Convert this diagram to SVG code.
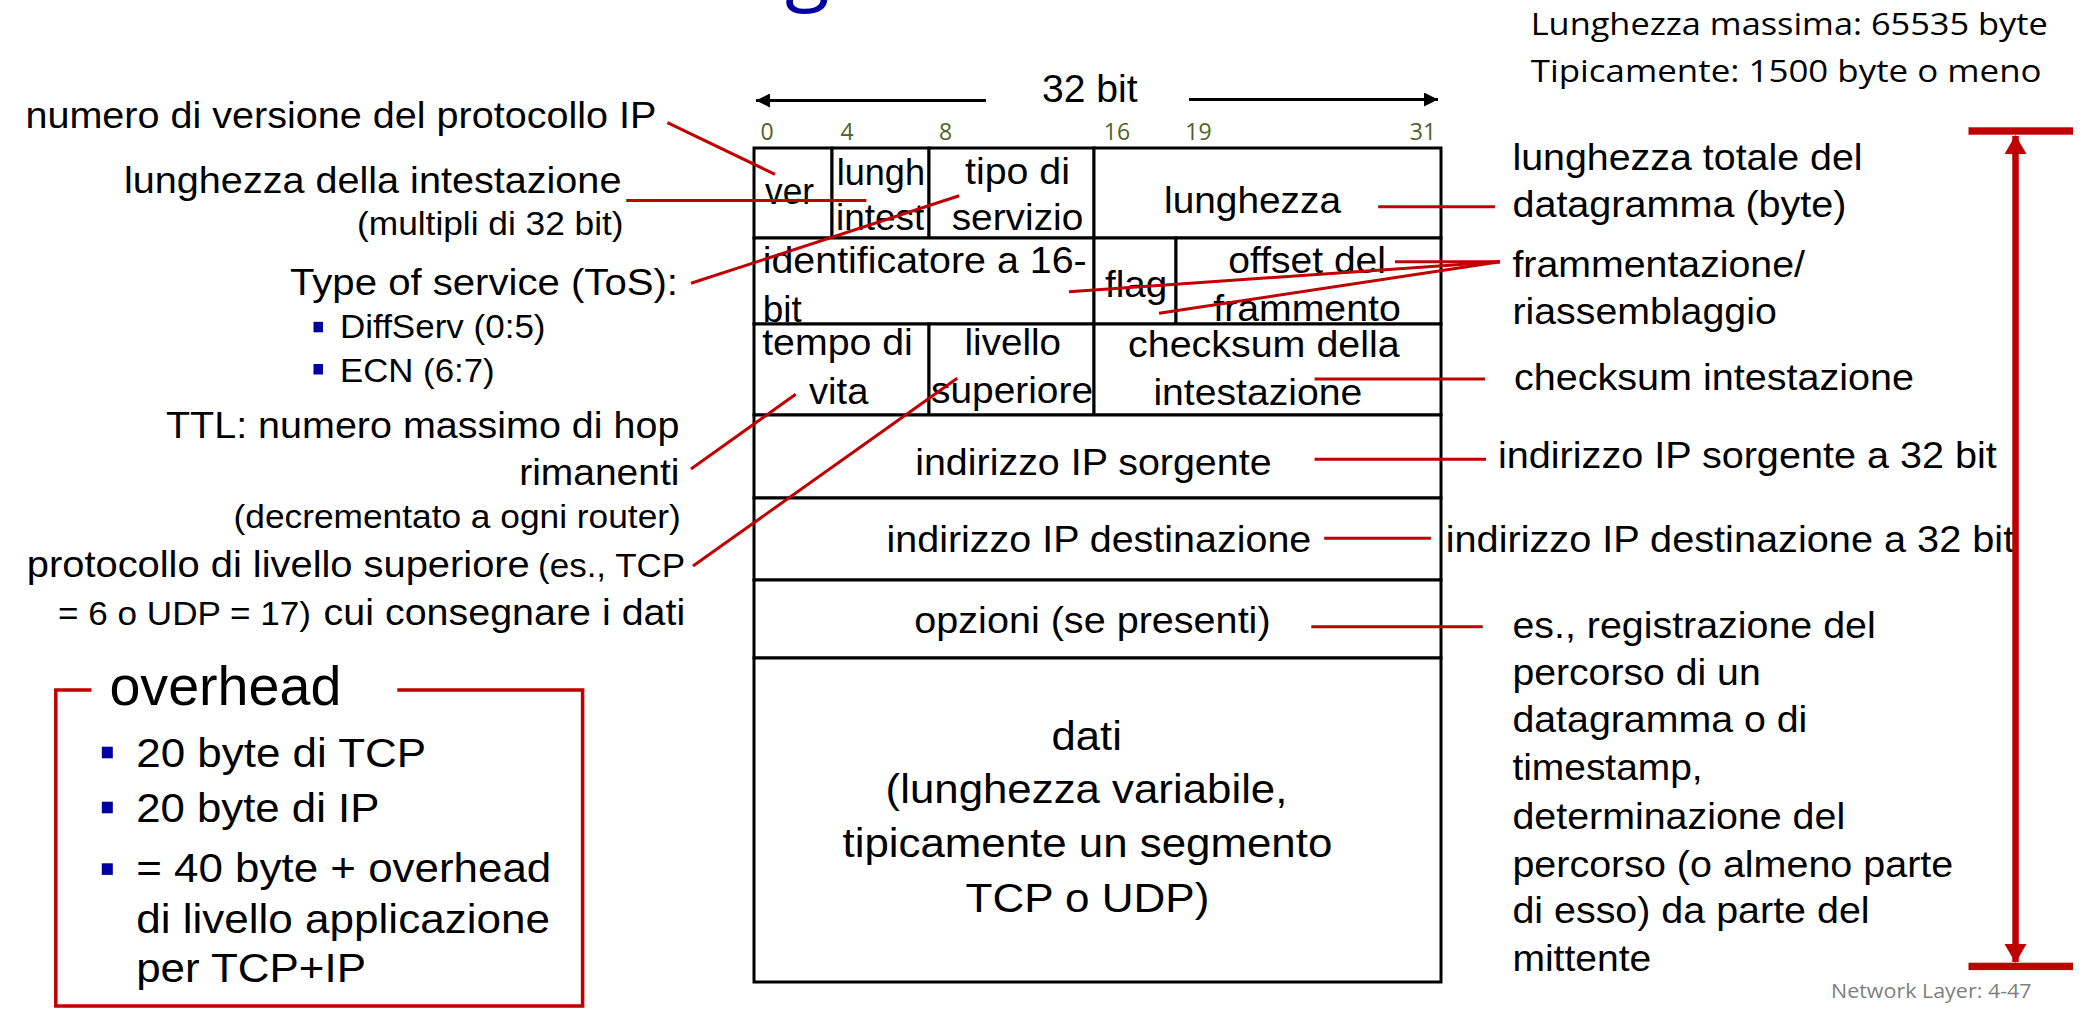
<svg xmlns="http://www.w3.org/2000/svg" width="2083" height="1023" viewBox="0 0 2083 1023">
  <defs>
    <style>
      text { font-family: "Liberation Sans", Arial, sans-serif; fill: #000; }
      .big { font-size: 37.5px; }
      .sm { font-size: 33px; }
      .tb { font-size: 37.5px; }
      .dat { font-size: 41px; }
      .ov { font-size: 41px; }
      .ovt { font-size: 56px; }
      .cal { font-family: "Open Sans", "Liberation Sans", sans-serif; font-size: 30.5px; }
      .bitn { font-family: "Open Sans", "Liberation Sans", sans-serif; font-size: 23px; fill: #4F6228; text-anchor: middle; }
      .foot { font-family: "Open Sans", "Liberation Sans", sans-serif; font-size: 20px; fill: #7F7F7F; }
      .title { font-family: "Open Sans", "Liberation Sans", sans-serif; font-size: 82px; fill: #0000A0; }
      .cell { fill: #fff; stroke: #000; stroke-width: 3; }
      .lead { stroke: #C00000; stroke-width: 3; fill: none; }
      .blt { fill: #0000A0; }
      .span { stroke: #C00000; stroke-width: 6.5; fill: none; }
      .bar { fill: #C00000; }
      .dim { stroke: #000; stroke-width: 3; fill: none; }
    </style>
    <marker id="arrBlack" markerUnits="userSpaceOnUse" markerWidth="16" markerHeight="14" refX="14" refY="7" orient="auto">
      <path d="M0,0 L14,7 L0,14 Z" fill="#000"/>
    </marker>
    <marker id="arrRed" markerUnits="userSpaceOnUse" markerWidth="20" markerHeight="24" refX="18" refY="11" orient="auto">
      <path d="M0,0 L19,11 L0,22 Z" fill="#C00000"/>
    </marker>
  </defs>

  <rect width="2083" height="1023" fill="#fff"/>

  <!-- descender of the slide title, cut by the top edge -->
  <text class="title" x="785" y="-6">g</text>

  <!-- header width indicator -->
  <g id="width-indicator">
    <text class="big" style="font-size:38.5px" x="1042" y="102.3" textLength="95.6" lengthAdjust="spacingAndGlyphs">32 bit</text>
    <line class="dim" x1="986" y1="100.5" x2="756" y2="100.5" marker-end="url(#arrBlack)"/>
    <line class="dim" x1="1189" y1="99.5" x2="1438" y2="99.5" marker-end="url(#arrBlack)"/>
    <text class="bitn" x="767" y="140">0</text>
    <text class="bitn" x="847" y="140">4</text>
    <text class="bitn" x="945.5" y="140">8</text>
    <text class="bitn" x="1117" y="140">16</text>
    <text class="bitn" x="1198.5" y="140">19</text>
    <text class="bitn" x="1423" y="140">31</text>
  </g>

  <!-- datagram header fields -->
  <g id="field-ver">
    <rect class="cell" x="754" y="148" width="78" height="90"/>
    <text class="tb" x="765" y="204" textLength="49" lengthAdjust="spacingAndGlyphs">ver</text>
  </g>
  <g id="field-lungh">
    <rect class="cell" x="832" y="148" width="97" height="90"/>
    <text class="tb" x="836.7" y="185" textLength="88.3" lengthAdjust="spacingAndGlyphs">lungh</text>
    <text class="tb" x="836" y="229.5" textLength="88.3" lengthAdjust="spacingAndGlyphs">intest</text>
  </g>
  <g id="field-tos">
    <rect class="cell" x="929" y="148" width="165" height="90"/>
    <text class="tb" x="965" y="184.3" textLength="105" lengthAdjust="spacingAndGlyphs">tipo di</text>
    <text class="tb" x="951.7" y="230" textLength="131.6" lengthAdjust="spacingAndGlyphs">servizio</text>
  </g>
  <g id="field-length">
    <rect class="cell" x="1094" y="148" width="347" height="90"/>
    <text class="tb" x="1164" y="213.3" textLength="177" lengthAdjust="spacingAndGlyphs">lunghezza</text>
  </g>
  <g id="field-id">
    <rect class="cell" x="754" y="238" width="340" height="86"/>
    <text class="tb" x="762.7" y="273.3" textLength="324" lengthAdjust="spacingAndGlyphs">identificatore a 16-</text>
    <text class="tb" x="762.7" y="321.7" textLength="39" lengthAdjust="spacingAndGlyphs">bit</text>
  </g>
  <g id="field-flag">
    <rect class="cell" x="1094" y="238" width="82" height="86"/>
    <text class="tb" x="1105" y="296.7" textLength="62.3" lengthAdjust="spacingAndGlyphs">flag</text>
  </g>
  <g id="field-offset">
    <rect class="cell" x="1176" y="238" width="265" height="86"/>
    <text class="tb" x="1228.3" y="273.3" textLength="157.7" lengthAdjust="spacingAndGlyphs">offset del</text>
    <text class="tb" x="1213.3" y="320.7" textLength="187.4" lengthAdjust="spacingAndGlyphs">frammento</text>
  </g>
  <g id="field-ttl">
    <rect class="cell" x="754" y="324" width="175" height="91"/>
    <text class="tb" x="762.2" y="355" textLength="150.6" lengthAdjust="spacingAndGlyphs">tempo di</text>
    <text class="tb" x="809" y="404" textLength="59.4" lengthAdjust="spacingAndGlyphs">vita</text>
  </g>
  <g id="field-proto">
    <rect class="cell" x="929" y="324" width="165" height="91"/>
    <text class="tb" x="964.5" y="355" textLength="96.5" lengthAdjust="spacingAndGlyphs">livello</text>
    <text class="tb" x="931" y="403.3" textLength="162" lengthAdjust="spacingAndGlyphs">superiore</text>
  </g>
  <g id="field-checksum">
    <rect class="cell" x="1094" y="324" width="347" height="91"/>
    <text class="tb" x="1128" y="357.3" textLength="271.7" lengthAdjust="spacingAndGlyphs">checksum della</text>
    <text class="tb" x="1153.4" y="405" textLength="209" lengthAdjust="spacingAndGlyphs">intestazione</text>
  </g>
  <g id="field-src">
    <rect class="cell" x="754" y="415" width="687" height="83"/>
    <text class="tb" x="915.2" y="475" textLength="356.4" lengthAdjust="spacingAndGlyphs">indirizzo IP sorgente</text>
  </g>
  <g id="field-dst">
    <rect class="cell" x="754" y="498" width="687" height="82"/>
    <text class="tb" x="886.5" y="551.7" textLength="424.8" lengthAdjust="spacingAndGlyphs">indirizzo IP destinazione</text>
  </g>
  <g id="field-options">
    <rect class="cell" x="754" y="580" width="687" height="78"/>
    <text class="tb" x="914.3" y="633.3" textLength="356.3" lengthAdjust="spacingAndGlyphs">opzioni (se presenti)</text>
  </g>
  <g id="field-data">
    <rect class="cell" x="754" y="658" width="687" height="324"/>
    <text class="dat" x="1051.5" y="750" textLength="70.4" lengthAdjust="spacingAndGlyphs">dati</text>
    <text class="dat" x="885.6" y="803.3" textLength="401.8" lengthAdjust="spacingAndGlyphs">(lunghezza variabile,</text>
    <text class="dat" x="842.5" y="856.7" textLength="489.8" lengthAdjust="spacingAndGlyphs">tipicamente un segmento</text>
    <text class="dat" x="965.5" y="911.7" textLength="243.9" lengthAdjust="spacingAndGlyphs">TCP o UDP)</text>
  </g>

  <!-- left annotations -->
  <g id="note-version">
    <text class="big" x="25.4" y="128.3" textLength="631" lengthAdjust="spacingAndGlyphs">numero di versione del protocollo IP</text>
  </g>
  <g id="note-hlen">
    <text class="big" x="124" y="192.7" textLength="497.4" lengthAdjust="spacingAndGlyphs">lunghezza della intestazione</text>
    <text class="sm" x="357" y="235" textLength="266.6" lengthAdjust="spacingAndGlyphs">(multipli di 32 bit)</text>
  </g>
  <g id="note-tos">
    <text class="big" x="290" y="295" textLength="388" lengthAdjust="spacingAndGlyphs">Type of service (ToS):</text>
    <rect class="blt" x="313.5" y="321.8" width="9.5" height="10.5"/>
    <text class="sm" x="340" y="338.3" textLength="205.5" lengthAdjust="spacingAndGlyphs">DiffServ (0:5)</text>
    <rect class="blt" x="313.5" y="364" width="9.5" height="10.5"/>
    <text class="sm" x="340" y="381.7" textLength="154.6" lengthAdjust="spacingAndGlyphs">ECN (6:7)</text>
  </g>
  <g id="note-ttl">
    <text class="big" x="166" y="438.3" textLength="513.4" lengthAdjust="spacingAndGlyphs">TTL: numero massimo di hop</text>
    <text class="big" x="519.2" y="485" textLength="160.2" lengthAdjust="spacingAndGlyphs">rimanenti</text>
    <text class="sm" x="233.5" y="528.3" textLength="447.3" lengthAdjust="spacingAndGlyphs">(decrementato a ogni router)</text>
  </g>
  <g id="note-proto">
    <text class="big" x="26.8" y="576.7" textLength="503" lengthAdjust="spacingAndGlyphs">protocollo di livello superiore</text>
    <text class="sm" x="538" y="576.7" textLength="147.2" lengthAdjust="spacingAndGlyphs">(es., TCP</text>
    <text class="sm" x="58" y="625" textLength="253" lengthAdjust="spacingAndGlyphs">= 6 o UDP = 17)</text>
    <text class="big" x="323.6" y="625" textLength="361.6" lengthAdjust="spacingAndGlyphs">cui consegnare i dati</text>
  </g>

  <!-- overhead box -->
  <g id="overhead">
    <path d="M91.5,690 H55.8 V1006 H582.6 V690 H397.3" fill="none" stroke="#C00000" stroke-width="3.5"/>
    <text class="ovt" x="109.4" y="705" textLength="232" lengthAdjust="spacingAndGlyphs">overhead</text>
    <rect class="blt" x="101.8" y="746.7" width="11" height="11.6"/>
    <text class="ov" x="136.2" y="766.7" textLength="290" lengthAdjust="spacingAndGlyphs">20 byte di TCP</text>
    <rect class="blt" x="101.8" y="801.7" width="11" height="11.6"/>
    <text class="ov" x="136.2" y="821.7" textLength="243.2" lengthAdjust="spacingAndGlyphs">20 byte di IP</text>
    <rect class="blt" x="101.8" y="863.3" width="11" height="11.6"/>
    <text class="ov" x="136.2" y="881.7" textLength="415.1" lengthAdjust="spacingAndGlyphs">= 40 byte + overhead</text>
    <text class="ov" x="136.2" y="933.3" textLength="413.8" lengthAdjust="spacingAndGlyphs">di livello applicazione</text>
    <text class="ov" x="136.2" y="981.7" textLength="229.8" lengthAdjust="spacingAndGlyphs">per TCP+IP</text>
  </g>

  <!-- right annotations -->
  <g id="note-max">
    <text class="cal" x="1530.7" y="35" textLength="517" lengthAdjust="spacingAndGlyphs">Lunghezza massima: 65535 byte</text>
    <text class="cal" x="1530.7" y="81.7" textLength="510.9" lengthAdjust="spacingAndGlyphs">Tipicamente: 1500 byte o meno</text>
  </g>
  <g id="note-total">
    <text class="big" x="1512.4" y="170" textLength="350.2" lengthAdjust="spacingAndGlyphs">lunghezza totale del</text>
    <text class="big" x="1512.4" y="216.7" textLength="334.1" lengthAdjust="spacingAndGlyphs">datagramma (byte)</text>
  </g>
  <g id="note-frag">
    <text class="big" x="1512.4" y="277.3" textLength="292.6" lengthAdjust="spacingAndGlyphs">frammentazione/</text>
    <text class="big" x="1512.4" y="324" textLength="264.4" lengthAdjust="spacingAndGlyphs">riassemblaggio</text>
  </g>
  <g id="note-checksum">
    <text class="big" x="1514" y="390" textLength="400" lengthAdjust="spacingAndGlyphs">checksum intestazione</text>
  </g>
  <g id="note-src">
    <text class="big" x="1498" y="468.3" textLength="498.8" lengthAdjust="spacingAndGlyphs">indirizzo IP sorgente a 32 bit</text>
  </g>
  <g id="note-dst">
    <text class="big" x="1445.7" y="551.7" textLength="568.5" lengthAdjust="spacingAndGlyphs">indirizzo IP destinazione a 32 bit</text>
  </g>
  <g id="note-options">
    <text class="big" x="1512.4" y="638.3" textLength="363.3" lengthAdjust="spacingAndGlyphs">es., registrazione del</text>
    <text class="big" x="1512.4" y="685" textLength="248.3" lengthAdjust="spacingAndGlyphs">percorso di un</text>
    <text class="big" x="1512.4" y="731.7" textLength="294.9" lengthAdjust="spacingAndGlyphs">datagramma o di</text>
    <text class="big" x="1512.4" y="780" textLength="190.3" lengthAdjust="spacingAndGlyphs">timestamp,</text>
    <text class="big" x="1512.4" y="829" textLength="332.8" lengthAdjust="spacingAndGlyphs">determinazione del</text>
    <text class="big" x="1512.4" y="876.7" textLength="440.8" lengthAdjust="spacingAndGlyphs">percorso (o almeno parte</text>
    <text class="big" x="1512.4" y="923.3" textLength="357.2" lengthAdjust="spacingAndGlyphs">di esso) da parte del</text>
    <text class="big" x="1512.4" y="970.7" textLength="138.9" lengthAdjust="spacingAndGlyphs">mittente</text>
  </g>

  <!-- datagram length span -->
  <g id="length-span">
    <rect class="bar" x="1968.5" y="127.3" width="104.5" height="7.4"/>
    <rect class="bar" x="1968.5" y="962.7" width="104.5" height="7.4"/>
    <line class="span" x1="2015.5" y1="545" x2="2015.5" y2="136" marker-end="url(#arrRed)"/>
    <line class="span" x1="2015.5" y1="545" x2="2015.5" y2="962" marker-end="url(#arrRed)"/>
  </g>

  <text class="foot" x="1831" y="997.7" textLength="200.6" lengthAdjust="spacingAndGlyphs">Network Layer: 4-47</text>

  <!-- leader lines -->
  <g id="connectors">
    <line class="lead" x1="667.4" y1="122.7" x2="775" y2="174.3"/>
    <line class="lead" x1="626.3" y1="200.5" x2="866.4" y2="200.5"/>
    <line class="lead" x1="691" y1="283.3" x2="959.2" y2="195.7"/>
    <line class="lead" x1="1378.2" y1="206.7" x2="1495" y2="206.7"/>
    <line class="lead" x1="1395" y1="261.7" x2="1500" y2="261.7"/>
    <line class="lead" x1="1069" y1="291.7" x2="1500" y2="261.7"/>
    <line class="lead" x1="1159" y1="313.3" x2="1500" y2="261.7"/>
    <line class="lead" x1="691" y1="469" x2="795.7" y2="394.3"/>
    <line class="lead" x1="693" y1="566" x2="957.3" y2="378.3"/>
    <line class="lead" x1="1314.6" y1="379" x2="1485" y2="379"/>
    <line class="lead" x1="1314.6" y1="459.3" x2="1486" y2="459.3"/>
    <line class="lead" x1="1324.2" y1="538.3" x2="1431" y2="538.3"/>
    <line class="lead" x1="1311.3" y1="626.7" x2="1482.8" y2="626.7"/>
  </g>
</svg>
